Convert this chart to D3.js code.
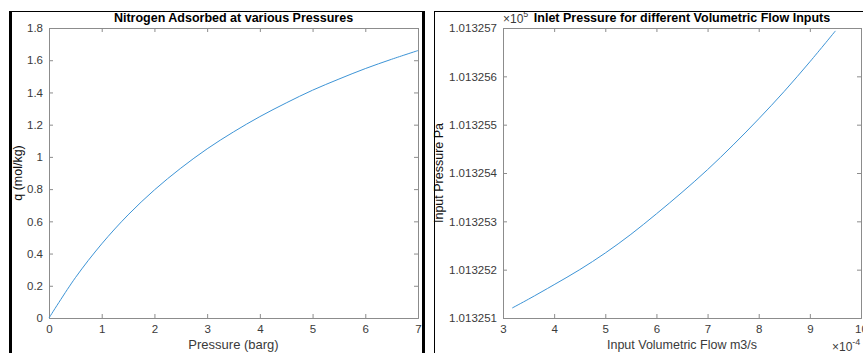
<!DOCTYPE html>
<html><head><meta charset="utf-8">
<script src="https://cdn.jsdelivr.net/npm/d3@7"></script>
<style>
html,body{margin:0;padding:0;background:#fff;}
svg{display:block;font-family:"Liberation Sans",Arial,Helvetica,sans-serif;}
</style></head>
<body>
<svg id="c" width="863" height="353"></svg>
<script>
// Left chart: Nitrogen adsorbed (q, mol/kg) vs pressure (barg)
const pressure = [0,0.5,1,1.5,2,2.5,3,3.5,4,4.5,5,5.5,6,6.5,7];
const qAds     = [0,0.25,0.46,0.64,0.795,0.93,1.05,1.155,1.25,1.335,1.414,1.483,1.548,1.606,1.66];
const leftXTicks = [0,1,2,3,4,5,6,7];
const leftYTicks = [0,0.2,0.4,0.6,0.8,1,1.2,1.4,1.6,1.8];

// Right chart: inlet pressure (Pa) vs volumetric flow (x1e-4 m3/s)
const flow     = [3.18,3.5,4,4.5,5,5.5,6,6.5,7,7.5,8,8.5,9,9.5];
const inletP   = [101325.1207,101325.1390,101325.1690,101325.2000,101325.2345,101325.2730,101325.3155,
                  101325.3600,101325.4070,101325.4580,101325.5120,101325.5690,101325.6300,101325.6940];
const rightXTicks = [3,4,5,6,7,8,9,10];
const rightYTicks = [101325.1,101325.2,101325.3,101325.4,101325.5,101325.6,101325.7];
const rightYLabels = ["1.013251","1.013252","1.013253","1.013254","1.013255","1.013256","1.013257"];

const svg = d3.select("#c");
const axisCol = "#8c8c8c", textCol = "#3a3a3a", lineCol = "#3d94d6";

function panel(o){
  const g = svg.append("g");
  const x = d3.scaleLinear().domain(o.xd).range([o.x0,o.x1]);
  const y = d3.scaleLinear().domain(o.yd).range([o.y1,o.y0]);
  const tl = 4;
  const ax = d3.axisBottom(x).tickValues(o.xt).tickSize(-tl).tickPadding(7).tickFormat(o.xf||d3.format(""));
  const gx = g.append("g").attr("transform",`translate(0,${o.y1})`).call(ax);
  const axT = d3.axisTop(x).tickValues(o.xt).tickSize(-tl).tickFormat("");
  const gxt = g.append("g").attr("transform",`translate(0,${o.y0})`).call(axT);
  const ay = d3.axisLeft(y).tickValues(o.yt).tickSize(-tl).tickPadding(6).tickFormat(o.yf);
  const gy = g.append("g").attr("transform",`translate(${o.x0},0)`).call(ay);
  const ayR = d3.axisRight(y).tickValues(o.yt).tickSize(-tl).tickFormat("");
  const gyr = g.append("g").attr("transform",`translate(${o.x1},0)`).call(ayR);
  [gx,gxt,gy,gyr].forEach(a=>{
    a.select(".domain").attr("stroke",axisCol).attr("stroke-width",1);
    a.selectAll(".tick line").attr("stroke",axisCol);
    a.selectAll("text").attr("fill",textCol).style("font-size","11.5px").style("font-family","Liberation Sans, Arial, sans-serif");
  });
  gx.selectAll("text").attr("dy","0.71em");
  g.append("path").datum(o.xs.map((d,i)=>[d,o.ys[i]]))
   .attr("fill","none").attr("stroke",lineCol).attr("stroke-width",1)
   .attr("d",d3.line().x(d=>x(d[0])).y(d=>y(d[1])).curve(d3.curveCatmullRom));
  g.append("text").attr("x",(o.x0+o.x1)/2).attr("y",o.y0-6).attr("text-anchor","middle")
   .attr("fill","#000").style("font-size","12.5px").style("font-weight","bold").text(o.title);
  g.append("text").attr("x",(o.x0+o.x1)/2).attr("y",o.xly).attr("text-anchor","middle")
   .attr("fill",textCol).style("font-size",o.xlfs).text(o.xlabel);
  g.append("text").attr("transform",`translate(${o.ylx},${(o.y0+o.y1)/2}) rotate(-90)`).attr("text-anchor","middle")
   .attr("fill","#111").style("font-size","12.5px").text(o.ylabel);
  return {g,x,y};
}

panel({x0:49,x1:418,y0:28,y1:318,xd:[0,7],yd:[0,1.8],xt:leftXTicks,yt:leftYTicks,
  yf:d3.format(""),xs:pressure,ys:qAds,title:"Nitrogen Adsorbed at various Pressures",
  xlabel:"Pressure (barg)",xly:349,xlfs:"13px",ylabel:"q (mol/kg)",ylx:22});

panel({x0:503,x1:861,y0:28,y1:318,xd:[3,10],yd:[101325.1,101325.7],xt:rightXTicks,yt:rightYTicks,
  yf:(d,i)=>rightYLabels[i],xs:flow,ys:inletP,title:"Inlet Pressure for different Volumetric Flow Inputs",
  xlabel:"Input Volumetric Flow m3/s",xly:349,xlfs:"12.5px",ylabel:"Input Pressure Pa",ylx:443});

const e1 = svg.append("text").attr("x",503).attr("y",23).attr("fill",textCol).style("font-size","12px");
e1.append("tspan").text("×10");
e1.append("tspan").attr("dy",-6).style("font-size","9px").text("5");
const e2 = svg.append("text").attr("x",832).attr("y",351).attr("fill",textCol).style("font-size","12px");
e2.append("tspan").text("×10");
e2.append("tspan").attr("dy",-6).style("font-size","9px").text("-4");

svg.append("line").attr("x1",10.5).attr("x2",10.5).attr("y1",11).attr("y2",353).attr("stroke","#000").attr("stroke-width",3);
svg.append("line").attr("x1",423.5).attr("x2",423.5).attr("y1",11).attr("y2",353).attr("stroke","#000").attr("stroke-width",3);
svg.append("line").attr("x1",9).attr("x2",425).attr("y1",11.5).attr("y2",11.5).attr("stroke","#000").attr("stroke-width",1);
svg.append("line").attr("x1",434.5).attr("x2",434.5).attr("y1",11).attr("y2",353).attr("stroke","#000").attr("stroke-width",1);
svg.append("line").attr("x1",434).attr("x2",863).attr("y1",11.5).attr("y2",11.5).attr("stroke","#000").attr("stroke-width",1);
</script>
</body></html>
